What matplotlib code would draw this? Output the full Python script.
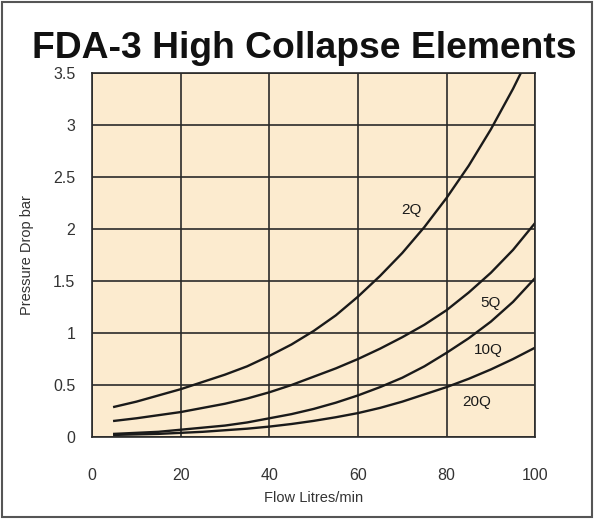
import matplotlib
matplotlib.use("Agg")
import matplotlib.pyplot as plt
from matplotlib.patches import Rectangle

plt.rcParams['font.family'] = ['Liberation Sans', 'DejaVu Sans']

# flow (litres/min) and pressure drop (bar)
flow = [5, 10, 15, 20, 25, 30, 35, 40, 45, 50, 55, 60, 65, 70, 75, 80, 85, 90, 95, 100]
q2 = [0.29, 0.34, 0.40, 0.46, 0.53, 0.60, 0.68, 0.78, 0.89, 1.02, 1.17, 1.35, 1.55, 1.77, 2.02, 2.30, 2.61, 2.96, 3.35, 3.78]
q5 = [0.155, 0.18, 0.21, 0.24, 0.28, 0.32, 0.37, 0.43, 0.50, 0.58, 0.66, 0.75, 0.85, 0.96, 1.08, 1.22, 1.39, 1.58, 1.80, 2.06]
q10 = [0.03, 0.04, 0.05, 0.07, 0.09, 0.11, 0.14, 0.18, 0.22, 0.27, 0.33, 0.40, 0.48, 0.57, 0.68, 0.81, 0.95, 1.11, 1.30, 1.53]
q20 = [0.02, 0.025, 0.03, 0.04, 0.05, 0.065, 0.08, 0.10, 0.125, 0.155, 0.19, 0.23, 0.28, 0.34, 0.41, 0.48, 0.56, 0.65, 0.75, 0.86]

curves = {'2Q': q2, '5Q': q5, '10Q': q10, '20Q': q20}
label_pos = {'2Q': (72, 2.18), '5Q': (90, 1.29), '10Q': (89.4, 0.84), '20Q': (86.9, 0.34)}

fig = plt.figure(figsize=(5.94, 5.19), dpi=100)
fig.patches.append(Rectangle((0.004, 0.004), 0.992, 0.992, transform=fig.transFigure,
                             fill=False, edgecolor='#555555', linewidth=1.5))

ax = fig.add_axes([0.155, 0.158, 0.746, 0.701])
ax.set_facecolor('#fcebcf')

for name, vals in curves.items():
    ax.plot(flow, vals, color='#1a1a1a', linewidth=1.7)
    lx, ly = label_pos[name]
    ax.text(lx, ly, name, fontsize=11, color='#1a1a1a', ha='center', va='center')

ax.set_xlim(0, 100)
ax.set_ylim(0, 3.5)
ax.set_xticks([0, 20, 40, 60, 80, 100])
ax.set_yticks([0, 0.5, 1, 1.5, 2, 2.5, 3, 3.5])
ax.set_yticklabels(['0', '0.5', '1', '1.5', '2', '2.5', '3', '3.5'])
ax.grid(True, color='#2a2a2a', linewidth=1.2)
ax.set_axisbelow(True)
ax.tick_params(length=0, labelsize=11.5, labelcolor='#333333')
ax.tick_params(axis='x', pad=22)
ax.tick_params(axis='y', pad=12)
for s in ax.spines.values():
    s.set_color('#2a2a2a')
    s.set_linewidth(1.2)

ax.set_xlabel('Flow Litres/min', fontsize=10.5, color='#333333', labelpad=6)
ax.set_ylabel('Pressure Drop bar', fontsize=10.5, color='#333333', labelpad=14)

fig.text(0.513, 0.889, 'FDA-3 High Collapse Elements', fontsize=26.8, fontweight='bold',
         ha='center', va='baseline', color='#111111')

fig.savefig('out.png', dpi=100, facecolor='white')
